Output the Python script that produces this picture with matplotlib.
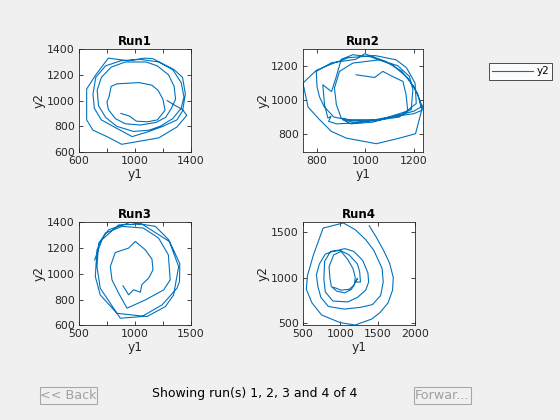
import matplotlib
matplotlib.use("Agg")
import matplotlib.pyplot as plt
from matplotlib.patches import Rectangle
from matplotlib.lines import Line2D

## Data (y1 = x axis, y2 = y axis)
run1_y1 = [900, 960, 1010, 1090, 1160, 1215, 1200, 1165, 1120, 1030, 870, 830, 815, 800, 810, 860, 930, 1040, 1150, 1220,
           1260, 1290, 1280, 1240, 1160, 1080, 930, 830, 760, 730, 740, 790, 870, 990, 1100, 1180, 1270, 1330, 1350, 1330,
           1270, 1170, 1040, 900, 790, 720, 700, 710, 760, 860, 980, 1100, 1200, 1300, 1340, 1360, 1340, 1280, 1130, 1070,
           950, 810, 720, 655, 655, 700, 800, 905, 1170, 1300, 1370, 1340, 1290, 1230]
run1_y2 = [900, 880, 840, 835, 850, 925, 1010, 1080, 1120, 1140, 1130, 1110, 1030, 990, 930, 860, 820, 810, 830, 870,
           940, 1010, 1110, 1200, 1270, 1300, 1300, 1260, 1180, 1080, 960, 870, 800, 760, 770, 800, 860, 940, 1030, 1140,
           1240, 1300, 1320, 1310, 1270, 1180, 1050, 940, 850, 790, 720, 760, 800, 850, 920, 1050, 1180, 1240, 1325, 1330,
           1310, 1330, 1200, 1090, 850, 770, 720, 660, 710, 795, 885, 930, 960, 1000]

run2_y1 = [962, 1038, 1072, 1110, 1155, 1168, 1175, 1155, 1058, 935, 900, 880, 872, 893, 948, 1058, 1134, 1182, 1196, 1189,
           1140, 1050, 950, 905, 940, 1030, 1120, 1200, 1230, 1215, 1175, 1110, 1020, 948, 900, 880, 860, 824, 831, 845,
           858, 848, 880, 960, 1100, 1200, 1233, 1225, 1200, 1150, 1080, 997, 960, 860, 797, 800, 810, 830, 870, 940,
           1040, 1140, 1210, 1205, 1170, 1127, 1040, 930, 852, 797, 742, 763, 811, 859, 921, 1045, 1141, 1207, 1225, 1237, 1225]
run2_y2 = [1149, 1133, 1169, 1140, 1110, 1031, 933, 914, 884, 884, 894, 973, 1071, 1169, 1218, 1237, 1202, 1139, 1061, 943,
           920, 880, 870, 885, 860, 870, 905, 935, 960, 1040, 1130, 1210, 1255, 1267, 1240, 1140, 1050, 1090, 973, 894,
           905, 875, 860, 865, 900, 920, 940, 1000, 1080, 1170, 1230, 1273, 1240, 1220, 1169, 1080, 1020, 960, 900, 880,
           880, 900, 980, 1100, 1190, 1237, 1262, 1250, 1208, 1175, 1100, 959, 884, 816, 776, 743, 776, 802, 900, 963, 990]

run3_y1 = [893, 943, 988, 1048, 1062, 1122, 1161, 1152, 1092, 1003, 943, 824, 780, 795, 854, 929, 1092, 1256, 1315, 1298,
           1211, 1074, 884, 735, 661, 646, 690, 839, 1107, 1271, 1345, 1390, 1301, 1182, 958, 765, 676, 661, 690, 869,
           1062, 1241, 1375, 1398, 1400, 1310, 1062, 854, 705, 640]
run3_y2 = [907, 837, 876, 857, 917, 966, 1031, 1114, 1187, 1252, 1200, 1166, 1057, 953, 850, 733, 797, 875, 953, 1148,
           1278, 1356, 1369, 1317, 1187, 979, 836, 693, 668, 745, 836, 1057, 1265, 1369, 1400, 1343, 1239, 1057, 888, 655,
           668, 758, 888, 940, 1080, 1250, 1387, 1380, 1265, 1109]

run4_y1 = [1387, 1480, 1580, 1660, 1710, 1700, 1640, 1530, 1420, 1200, 1000, 750, 620, 545, 560, 640, 770, 1040, 1200, 1340,
           1450, 1560, 1575, 1540, 1430, 1270, 1050, 840, 740, 700, 680, 720, 800, 900, 1060, 1180, 1300, 1370, 1380, 1340,
           1230, 1100, 900, 800, 780, 790, 870, 1000, 1120, 1230, 1260, 1270, 1200, 1230, 1150, 1060, 950, 880, 860, 850,
           910, 1010, 1100, 1170, 1200, 1190, 1120, 1010, 950, 903]
run4_y2 = [1574, 1450, 1300, 1160, 1000, 860, 720, 610, 540, 474, 500, 585, 720, 870, 1020, 1250, 1548, 1605, 1530, 1420,
           1300, 1100, 950, 800, 700, 670, 650, 680, 780, 900, 1030, 1150, 1260, 1290, 1320, 1290, 1190, 1050, 950, 860,
           780, 730, 740, 840, 980, 1180, 1290, 1300, 1250, 1150, 1060, 950, 950, 990, 870, 830, 850, 900, 1000, 1120,
           1250, 1290, 1200, 1100, 1000, 920, 870, 860, 880, 893]

titles = ["Run1", "Run2", "Run3", "Run4"]
xlims = [(600, 1400), (742, 1237), (500, 1500), (500, 2000)]
ylims = [(600, 1400), (694, 1300), (600, 1400), (471, 1611)]
xticks = [[600, 800, 1000, 1200, 1400], [800, 1000, 1200], [500, 750, 1000, 1250, 1500], [500, 1000, 1500, 2000]]
xticklabels = [["600", "", "1000", "", "1400"], ["800", "1000", "1200"], ["500", "", "1000", "", "1500"],
               ["500", "1000", "1500", "2000"]]
yticks = [[600, 800, 1000, 1200, 1400], [800, 1000, 1200], [600, 800, 1000, 1200, 1400], [500, 1000, 1500]]
status_text = "Showing run(s) 1, 2, 3 and 4 of 4"

runs = [(run1_y1, run1_y2), (run2_y1, run2_y2), (run3_y1, run3_y2), (run4_y1, run4_y2)]

## Figure
plt.rcParams['font.family'] = ['DejaVu Sans']
fig = plt.figure(figsize=(5.6, 4.2), dpi=100, facecolor='#f0f0f0')

positions = [[0.141, 0.638, 0.200, 0.245], [0.541, 0.638, 0.214, 0.245],
             [0.141, 0.2255, 0.200, 0.245], [0.541, 0.2255, 0.200, 0.245]]
axcol = '#262626'
line_col = '#0072BD'

for i in range(4):
    ax = fig.add_axes(positions[i])
    ax.plot(runs[i][0], runs[i][1], color=line_col, lw=0.8)
    ax.set_xlim(xlims[i]);  ax.set_ylim(ylims[i])
    ax.set_xticks(xticks[i]);  ax.set_xticklabels(xticklabels[i])
    ax.set_yticks(yticks[i])
    ax.tick_params(direction='in', length=3, width=0.6, labelsize=7.8, colors=axcol,
                   top=True, right=True, pad=3)
    for s in ax.spines.values():
        s.set_color(axcol);  s.set_linewidth(0.6)
    ax.set_title(titles[i], fontsize=8.5, fontweight='bold', pad=3)
    ax.set_xlabel("y1", fontsize=8.8, color=axcol, labelpad=1)
    ax.set_ylabel("y2", fontsize=8.8, color=axcol, labelpad=1)

## Legend
handle = Line2D([], [], color=line_col, lw=0.8)
leg = fig.legend([handle], ["y2"], loc='center', bbox_to_anchor=(0.9295, 0.830), fontsize=7.5,
                 frameon=True, fancybox=False, edgecolor='black', handlelength=4.0,
                 handletextpad=0.3, borderpad=0.3, borderaxespad=0)
leg.get_frame().set_linewidth(0.6)

## Buttons and status text
fig.patches.append(Rectangle((40/560, 1-404/420), 57/560, 17/420, transform=fig.transFigure,
                             facecolor='#f0f0f0', edgecolor='#a8a8a8', lw=0.8))
fig.patches.append(Rectangle((414/560, 1-404/420), 57/560, 17/420, transform=fig.transFigure,
                             facecolor='#f0f0f0', edgecolor='#a8a8a8', lw=0.8))
fig.text(68.5/560, 1-395.5/420, "<< Back", ha='center', va='center', fontsize=9.2, color='#a0a0a0')
fig.text(442.5/560, 1-395.5/420, "Forwar...", ha='center', va='center', fontsize=9.2, color='#a0a0a0')
fig.text(255/560, 1-394/420, status_text, ha='center', va='center', fontsize=9.0, color='black')

fig.savefig("out.png", dpi=100, facecolor=fig.get_facecolor())
